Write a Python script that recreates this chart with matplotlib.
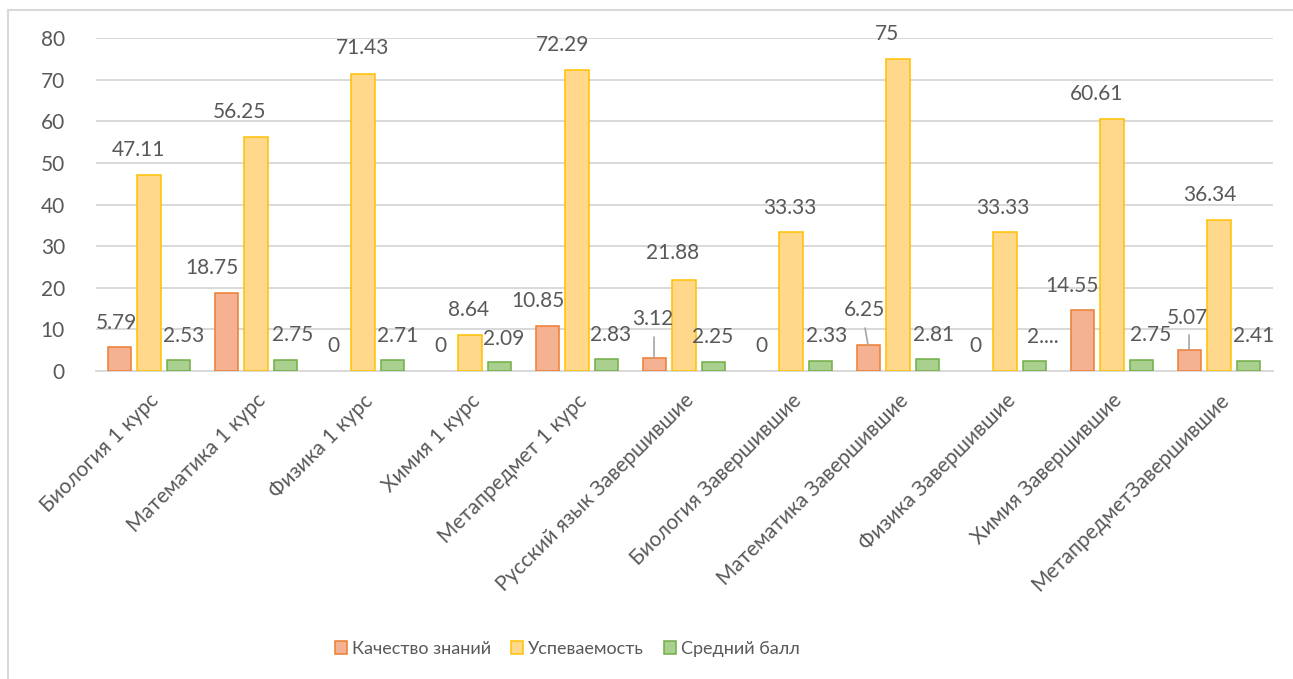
import matplotlib
matplotlib.use("Agg")
import matplotlib.pyplot as plt
from matplotlib.lines import Line2D
import numpy as np

plt.rcParams['font.family'] = ['Lato', 'Open Sans', 'DejaVu Sans']

categories = ["Биология 1 курс", "Математика 1 курс", "Физика 1 курс", "Химия 1 курс",
              "Метапредмет 1 курс", "Русский язык Завершившие", "Биология Завершившие",
              "Математика Завершившие", "Физика Завершившие", "Химия Завершившие",
              "МетапредметЗавершившие"]
kachestvo = [5.79, 18.75, 0, 0, 10.85, 3.12, 0, 6.25, 0, 14.55, 5.07]
uspevaemost = [47.11, 56.25, 71.43, 8.64, 72.29, 21.88, 33.33, 75, 33.33, 60.61, 36.34]
sredniy = [2.53, 2.75, 2.71, 2.09, 2.83, 2.25, 2.33, 2.81, 2.3, 2.75, 2.41]
series_names = ["Качество знаний", "Успеваемость", "Средний балл"]
yticks = [0, 10, 20, 30, 40, 50, 60, 70, 80]

# label positions relative to bar top (image pixels, as Excel placed them)
off_k = [(-3, -24), (-14, -25), (0, -25), (0, -25), (-9, -25), (-1, -39),
         (0, -25), (-4, -35), (0, -25), (-10, -24), (-1.5, -32)]
off_u = [(-11, -25), (-17, -25), (0, -26), (-1, -25), (-14, -25), (-11, -27),
         (-1, -24), (-11, -25), (-2, -24), (-15, -25), (-9, -25)]
off_s = [(5, -24), (7, -25), (5, -24), (4, -23), (4, -24), (-1, -25),
         (6, -25), (6, -24), (8, -24), (9, -25), (5, -25)]
leaders = {5: (0, 21), 7: (-3, 17), 10: (0, 15)}

W, H = 1293, 679
fig = plt.figure(figsize=(W / 100, H / 100), dpi=100)
ax = fig.add_axes([95.5 / W, 1 - 371 / H, (1272.5 - 95.5) / W, (371 - 38.3) / H])

txt = '#595959'
grid = '#D9D9D9'
fills = ['#F5B293', '#FFD88C', '#A9D08E']
edges = ['#ED7D31', '#FFC000', '#70AD47']

x = np.arange(len(categories))
bw = 0.215
step = 0.28
data = [kachestvo, uspevaemost, sredniy]
offsets = [off_k, off_u, off_s]
handles = []
for k, (vals, offs) in enumerate(zip(data, offsets)):
    xs = x + (k - 1) * step
    b = ax.bar(xs, vals, bw, color=fills[k], edgecolor=edges[k], linewidth=1.1,
               zorder=3, label=series_names[k])
    handles.append(b)
    for p, v in zip(b.patches, vals):
        if v == 0:
            p.set_visible(False)
    for i, (xx, v) in enumerate(zip(xs, vals)):
        lab = f"{v:g}"
        if k == 2 and i == 8:
            lab = "2...."
        dx, dy = offs[i]
        ax.annotate(lab, (xx, v), xytext=(dx, -dy), textcoords='offset pixels',
                    ha='center', va='center', fontsize=15, color=txt, zorder=4)
        if k == 0 and i in leaders:
            lx, ly = leaders[i]
            ax.annotate('', (xx, v), xytext=(lx, ly), textcoords='offset pixels',
                        arrowprops=dict(arrowstyle='-', color='#A6A6A6', lw=1.2,
                                        shrinkA=0, shrinkB=0), zorder=4)

ax.set_xlim(-0.5, len(categories) - 0.5)
ax.set_ylim(0, 80)
ax.set_yticks(yticks)
ax.yaxis.grid(True, color=grid, linewidth=1.4, zorder=0)
ax.set_axisbelow(True)
for s in ['top', 'right', 'left']:
    ax.spines[s].set_visible(False)
ax.spines['bottom'].set_color(grid)
ax.spines['bottom'].set_linewidth(1.4)
ax.tick_params(axis='y', length=0, pad=22, labelsize=15, labelcolor=txt)
ax.tick_params(axis='x', length=0, pad=14, labelsize=15, labelcolor=txt)
ax.set_xticks(x)
ax.set_xticklabels(categories, rotation=45, ha='right', rotation_mode='anchor')

fig.legend(handles=handles, loc='center', bbox_to_anchor=(567 / W, 1 - 649 / H),
           ncol=3, frameon=False, fontsize=13, labelcolor=txt,
           handlelength=0.7, handleheight=0.7, handletextpad=0.25,
           columnspacing=1.1)

# chart frame (only top and left edges are visible in the crop)
fig.add_artist(Line2D([7.5 / W, 7.5 / W], [0, 1 - 10 / H], color=grid, lw=1.5))
fig.add_artist(Line2D([7.5 / W, 1], [1 - 10 / H, 1 - 10 / H], color=grid, lw=1.5))

fig.savefig("out.png", dpi=100)
